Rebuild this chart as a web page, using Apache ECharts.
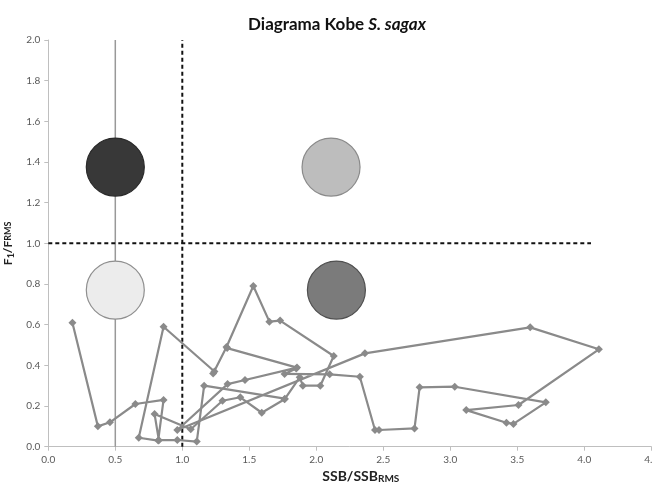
<!DOCTYPE html>
<html>
<head>
<meta charset="utf-8">
<script src="https://cdn.jsdelivr.net/npm/echarts@6/dist/echarts.min.js"></script>
<style>html,body{margin:0;padding:0;background:#fff}#c{width:652px;height:483px}</style>
</head>
<body>
<div id="c"></div>
<script>
// Axis ticks
var xTicks = [0, 0.5, 1, 1.5, 2, 2.5, 3, 3.5, 4, 4.5];
var yTicks = [0, 0.2, 0.4, 0.6, 0.8, 1.0, 1.2, 1.4, 1.6, 1.8, 2.0];

// Kobe trajectory (SSB/SSBrms, F/Frms)
var trajAX = [0.18,0.37,0.46,0.65,0.86,0.82,0.675,0.86,1.24,1.23,1.33,1.53,1.65,1.73,2.13,2.03,1.90,1.876,1.763,1.593,1.433,1.30,1.063,0.793,0.825,0.963,1.108,1.163,1.765];
var trajAY = [0.61,0.10,0.12,0.21,0.23,0.03,0.044,0.59,0.37,0.36,0.49,0.79,0.615,0.62,0.446,0.30,0.30,0.341,0.233,0.167,0.243,0.226,0.086,0.161,0.032,0.033,0.025,0.30,0.236];
var trajBX = [1.335,1.856,1.468,1.338,0.963,2.363,3.596,4.109,3.509,3.119,3.419,3.471,3.713,3.033,2.771,2.733,2.468,2.438,2.325,2.10,1.763,1.85];
var trajBY = [0.485,0.389,0.328,0.308,0.082,0.459,0.587,0.479,0.205,0.18,0.118,0.112,0.218,0.295,0.292,0.09,0.082,0.082,0.344,0.356,0.358,0.385];

// Reference lines
var solidVX = [0.5, 0.5], solidVY = [0, 2];
var dashVX = [1.0, 1.0], dashVY = [0, 2];
var dashHX = [0, 4.05], dashHY = [1.0, 1.0];

// Quadrant circles
var circleX = [0.5, 2.11, 0.5, 2.15];
var circleY = [1.375, 1.375, 0.77, 0.77];
var circleFill = ['#383838', '#bdbdbd', '#ececec', '#7b7b7b'];
var circleBorder = ['#2a2a2a', '#8a8a8a', '#8f8f8f', '#505050'];

function pairs(xs, ys) { return xs.map(function (x, i) { return [x, ys[i]]; }); }

var chart = echarts.init(document.getElementById('c'), null, {renderer: 'canvas'});
var font = 'Lato, "Open Sans", sans-serif';
var trajStyle = {
  type: 'line', symbol: 'diamond', symbolSize: 8, z: 10,
  lineStyle: {color: '#8a8a8a', width: 2.2},
  itemStyle: {color: '#8a8a8a'}, animation: false
};
chart.setOption({
  animation: false,
  textStyle: {fontFamily: font},
  title: {
    text: '{b|Diagrama Kobe }{i|S. sagax}',
    left: 332, top: 11, textAlign: 'center',
    textStyle: {rich: {
      b: {fontSize: 17, fontWeight: 'bold', color: '#111', fontFamily: font},
      i: {fontSize: 17, fontWeight: 'bold', fontStyle: 'italic', color: '#111', fontFamily: font}
    }}
  },
  grid: {left: 48.3, right: 0.7, top: 40, bottom: 36.3, containLabel: false, outerBoundsMode: 'none'},
  xAxis: {
    type: 'value', min: 0, max: 4.5, interval: 0.5,
    name: '{n|SSB/SSB}{m|RMS}', nameLocation: 'middle', nameGap: 16,
    nameTextStyle: {padding: [0, 0, 0, 22], rich: {
      n: {fontSize: 14, fontWeight: 'bold', color: '#222', fontFamily: font},
      m: {fontSize: 10, fontWeight: 'bold', color: '#222', fontFamily: font, padding: [4, 0, 0, 0]}
    }},
    splitLine: {show: false},
    axisLine: {lineStyle: {color: '#bfbfbf'}},
    axisTick: {show: true, length: 4, lineStyle: {color: '#bfbfbf'}},
    axisLabel: {color: '#595959', fontSize: 10, margin: 8, hideOverlap: false,
      formatter: function (v) { return v.toFixed(1); }}
  },
  yAxis: {
    type: 'value', min: 0, max: 2, interval: 0.2,
    name: '{n|F}{s|1}{n|/F}{m|RMS}', nameLocation: 'middle', nameGap: 24, nameRotate: 90,
    nameTextStyle: {rich: {
      n: {fontSize: 12, fontWeight: 'bold', color: '#222', fontFamily: font},
      s: {fontSize: 9, fontWeight: 'bold', color: '#222', fontFamily: font, padding: [5, 0, 0, 0]},
      m: {fontSize: 9, fontWeight: 'bold', color: '#222', fontFamily: font}
    }},
    splitLine: {show: false},
    axisLine: {show: true, lineStyle: {color: '#bfbfbf'}},
    axisTick: {show: true, length: 4, lineStyle: {color: '#bfbfbf'}},
    axisLabel: {color: '#595959', fontSize: 10, margin: 8,
      formatter: function (v) { return v.toFixed(1); }}
  },
  series: [
    {type: 'line', data: pairs(solidVX, solidVY), symbol: 'none', z: 1,
     lineStyle: {color: '#999999', width: 1.5}},
    {type: 'line', data: pairs(dashVX, dashVY), symbol: 'none', z: 2,
     lineStyle: {color: '#111111', width: 2, type: [4, 3]}},
    {type: 'line', data: pairs(dashHX, dashHY), symbol: 'none', z: 2,
     lineStyle: {color: '#111111', width: 2, type: [4, 3]}},
    {type: 'scatter', z: 5, symbol: 'circle', symbolSize: 58,
     data: circleX.map(function (x, i) {
       return {value: [x, circleY[i]], itemStyle: {color: circleFill[i], borderColor: circleBorder[i], borderWidth: 1.2, opacity: 1}};
     })},
    Object.assign({data: pairs(trajAX, trajAY)}, trajStyle),
    Object.assign({data: pairs(trajBX, trajBY)}, trajStyle)
  ]
});
</script>
</body>
</html>
